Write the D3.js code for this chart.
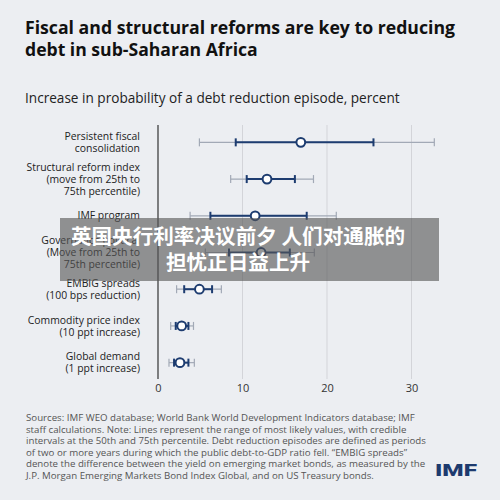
<!DOCTYPE html>
<html>
<head>
<meta charset="utf-8">
<script src="https://cdn.jsdelivr.net/npm/d3@7"></script>
<style>
  html, body { margin: 0; padding: 0; background: #eceef2; }
  svg { display: block; font-family: "Open Sans", "Noto Sans", sans-serif; }
</style>
</head>
<body>
<div id="chart"></div>
<script>
// Chart data
const titleLines = ["Fiscal and structural reforms are key to reducing", "debt in sub-Saharan Africa"];
const subtitle = "Increase in probability of a debt reduction episode, percent";
const categories = [
  ["Persistent fiscal", "consolidation"],
  ["Structural reform index", "(move from 25th to", "75th percentile)"],
  ["IMF program"],
  ["Governance political", "(Move from 25th to", "75th percentile)"],
  ["EMBIG spreads", "(100 bps reduction)"],
  ["Commodity price index", "(10 ppt increase)"],
  ["Global demand", "(1 ppt increase)"]
];
const estimates = [16.9, 12.9, 11.5, 12.2, 4.9, 2.8, 2.6];
const innerLow = [9.2, 10.5, 6.2, 8.4, 3.1, 2.1, 1.9];
const innerHigh = [25.5, 16.2, 17.6, 15.6, 6.4, 3.6, 3.6];
const outerLow = [4.9, 8.6, 3.8, 5.6, 2.2, 1.5, 1.3];
const outerHigh = [32.7, 18.4, 21.1, 18.5, 7.5, 4.2, 4.3];
const xTicks = [0, 10, 20, 30];
const noteLines = [
  "Sources: IMF WEO database; World Bank World Development Indicators database; IMF",
  "staff calculations. Note: Lines represent the range of most likely values, with credible",
  "intervals at the 50th and 75th percentile. Debt reduction episodes are defined as periods",
  "of two or more years during which the public debt-to-GDP ratio fell. \u201cEMBIG spreads\u201d",
  "denote the difference between the yield on emerging market bonds, as measured by the",
  "J.P. Morgan Emerging Markets Bond Index Global, and on US Treasury bonds."
];
const bannerLines = ["英国央行利率决议前夕 人们对通胀的", "担忧正日益上升"];

const width = 500, height = 500;
const navy = "#1d3c70";
const grey = "#a2a9b6";

const svg = d3.select("#chart").append("svg")
  .attr("width", width)
  .attr("height", height);

svg.append("rect").attr("width", width).attr("height", height).attr("fill", "#eceef2");

// Titles
svg.append("text")
  .attr("x", 25).attr("y", 34)
  .attr("font-size", 17.6).attr("font-weight", 700).attr("fill", "#111")
  .attr("textLength", 430).attr("lengthAdjust", "spacingAndGlyphs")
  .text(titleLines[0]);
svg.append("text")
  .attr("x", 25).attr("y", 56)
  .attr("font-size", 17.6).attr("font-weight", 700).attr("fill", "#111")
  .text(titleLines[1]);

svg.append("text")
  .attr("x", 25).attr("y", 103)
  .attr("font-size", 13.6).attr("fill", "#222")
  .text(subtitle);

// Scales
const x = d3.scaleLinear().domain([0, 35]).range([158, 158 + 35 * 8.45]);
const y = d3.scaleBand().domain(d3.range(categories.length)).range([124, 381]);
const cy = i => y(i) + y.bandwidth() / 2;

// Grid
svg.append("g").selectAll("line")
  .data(xTicks.filter(d => d > 0)).join("line")
  .attr("x1", d => x(d)).attr("x2", d => x(d))
  .attr("y1", 125).attr("y2", 379)
  .attr("stroke", "#d3d4d9").attr("stroke-width", 1);

const xAxis = d3.axisBottom(x).tickValues(xTicks).tickSize(0).tickPadding(5);
const gx = svg.append("g").attr("transform", "translate(0,379)").call(xAxis);
gx.select(".domain").remove();
gx.selectAll("text").attr("font-size", 11).attr("fill", "#333").attr("font-family", "'Open Sans', sans-serif");

svg.append("line")
  .attr("x1", x(0)).attr("x2", x(0)).attr("y1", 125).attr("y2", 379)
  .attr("stroke", "#333").attr("stroke-width", 1.2);

// Category labels
const lab = svg.append("g").selectAll("text")
  .data(categories).join("text")
  .attr("text-anchor", "end")
  .attr("font-size", 10.4).attr("fill", "#222");
lab.each(function(lines, i) {
  const t = d3.select(this);
  const top = cy(i) - (lines.length - 1) * 12.2 / 2 + 3.7;
  lines.forEach((l, k) => {
    t.append("tspan").attr("x", 140).attr("y", top + k * 12.2).text(l);
  });
});

// Intervals
const rows = svg.append("g").selectAll("g")
  .data(estimates).join("g")
  .attr("transform", (d, i) => `translate(0,${cy(i)})`);

rows.append("line")
  .attr("x1", (d, i) => x(outerLow[i])).attr("x2", (d, i) => x(outerHigh[i]))
  .attr("stroke", grey).attr("stroke-width", 1.2);
[outerLow, outerHigh].forEach(arr => {
  rows.append("line")
    .attr("x1", (d, i) => x(arr[i])).attr("x2", (d, i) => x(arr[i]))
    .attr("y1", -4).attr("y2", 4)
    .attr("stroke", grey).attr("stroke-width", 1.2);
});
rows.append("line")
  .attr("x1", (d, i) => x(innerLow[i])).attr("x2", (d, i) => x(innerHigh[i]))
  .attr("stroke", navy).attr("stroke-width", 2);
[innerLow, innerHigh].forEach(arr => {
  rows.append("line")
    .attr("x1", (d, i) => x(arr[i])).attr("x2", (d, i) => x(arr[i]))
    .attr("y1", -4).attr("y2", 4)
    .attr("stroke", navy).attr("stroke-width", 2);
});
rows.append("circle")
  .attr("cx", d => x(d)).attr("cy", 0).attr("r", 4.4)
  .attr("fill", "#fff").attr("stroke", navy).attr("stroke-width", 2);

// Notes
svg.append("text")
  .attr("font-size", 9.7).attr("fill", "#555")
  .selectAll("tspan").data(noteLines).join("tspan")
  .attr("x", 26).attr("y", (d, i) => 421 + i * 11.6)
  .text(d => d);

svg.append("text")
  .attr("x", 435).attr("y", 476)
  .attr("font-size", 16).attr("font-weight", 900).attr("fill", "#1d3a6e")
  .attr("font-family", "Roboto, sans-serif")
  .attr("textLength", 42).attr("lengthAdjust", "spacingAndGlyphs")
  .text("IMF");

// Overlay banner
svg.append("rect")
  .attr("x", 60).attr("y", 218).attr("width", 379).attr("height", 63)
  .attr("fill", "#555").attr("opacity", 0.62);
svg.append("text")
  .attr("text-anchor", "middle")
  .attr("font-family", "'Noto Sans CJK SC', sans-serif")
  .attr("font-size", 20.6).attr("font-weight", 700).attr("fill", "#fff")
  .selectAll("tspan").data(bannerLines).join("tspan")
  .attr("x", 238).attr("y", (d, i) => 244 + i * 26)
  .text(d => d);
</script>
</body>
</html>
